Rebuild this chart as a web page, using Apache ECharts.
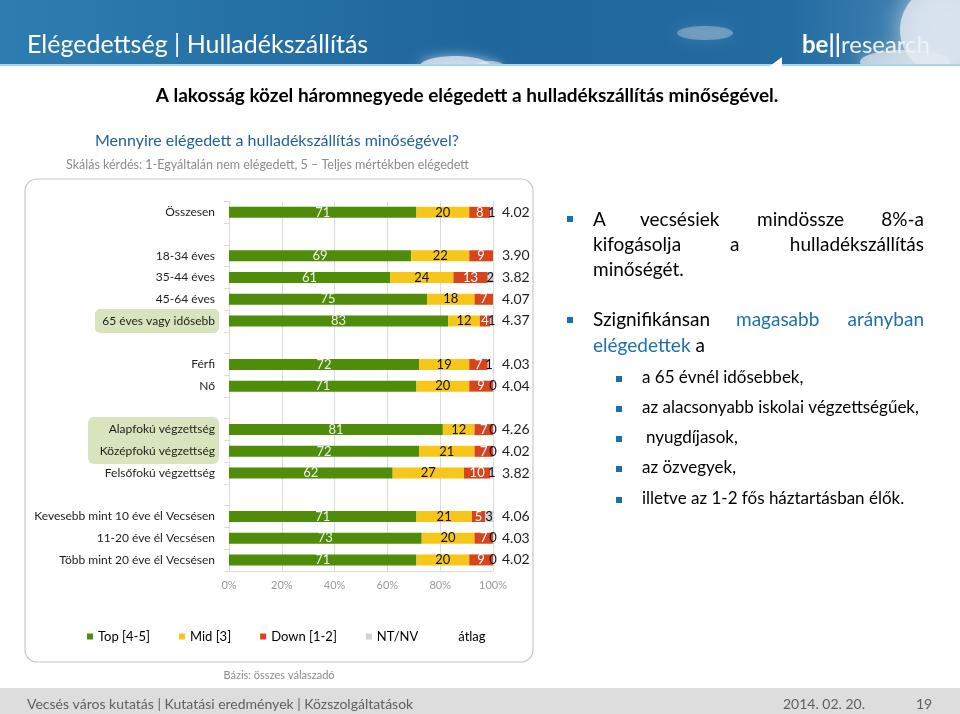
<!DOCTYPE html>
<html><head><meta charset="utf-8">
<script src="https://cdn.jsdelivr.net/npm/echarts@6/dist/echarts.min.js"></script>
<style>html,body{margin:0;padding:0;background:#fff}#c{width:960px;height:714px}</style>
</head><body><div id="c"></div>
<script>
const categories = ['Összesen','', '18-34 éves','35-44 éves','45-64 éves','65 éves vagy idősebb','', 'Férfi','Nő','', 'Alapfokú végzettség','Középfokú végzettség','Felsőfokú végzettség','', 'Kevesebb mint 10 éve él Vecsésen','11-20 éve él Vecsésen','Több mint 20 éve él Vecsésen'];
const topVals  = [71,null,69,61,75,83,null,72,71,null,81,72,62,null,71,73,71];
const midVals  = [20,null,22,24,18,12,null,19,20,null,12,21,27,null,21,20,20];
const downVals = [8,null,9,13,7,4,null,7,9,null,7,7,10,null,5,7,9];
const ntVals   = [1,null,null,2,null,1,null,1,0,null,0,0,1,null,3,0,0];
const avgLabels = ['4.02','','3.90','3.82','4.07','4.37','','4.03','4.04','','4.26','4.02','3.82','','4.06','4.03','4.02'];
const xTicks = ['0%','20%','40%','60%','80%','100%'];
const seriesNames = ['Top [4-5]','Mid [3]','Down [1-2]','NT/NV','átlag'];

const FONT = 'Lato';
const chart = echarts.init(document.getElementById('c'), null, {renderer:'canvas'});

function barSeries(name, data, color, labelColor){
  return {name, type:'bar', stack:'s', data, barWidth:11,
    itemStyle:{color},
    label:{show:true, position:'inside', color:labelColor, fontSize:13, fontFamily:FONT,
      formatter:p=> p.value==null?'':String(p.value)},
    emphasis:{disabled:true}, animation:false};
}

function word(x,y,t,opt){ return Object.assign({type:'text', x, y, style:Object.assign({text:t, fill:'#000', font:'19px '+FONT, textVerticalAlign:'middle'}, opt||{})}); }
function sq(x,y,s){ return {type:'rect', shape:{x,y,width:s,height:s}, style:{fill:'#1b6fae'}}; }
function cloud(cx,cy,rx,ry,a,blur){ return {type:'ellipse', z:-9, shape:{cx,cy,rx,ry}, style:{fill:'rgba(226,233,240,'+a+')', shadowBlur:blur, shadowColor:'rgba(235,240,245,'+a+')'}}; }

const graphics = [
  // banner
  {type:'rect', z:-10, shape:{x:0,y:0,width:960,height:66}, style:{fill:new echarts.graphic.LinearGradient(0,0,1,0.3,[{offset:0,color:'#2e7db1'},{offset:0.5,color:'#1e669c'},{offset:0.82,color:'#226ca2'},{offset:1,color:'#4c88b6'}])}},
  cloud(945,30,45,45,0.8,25),
  cloud(905,62,45,12,0.7,16),
  cloud(705,33,28,7,0.35,12),
  cloud(455,66,35,10,0.75,12),
  cloud(490,66,14,5,0.6,8),
  {type:'rect', z:-8.5, shape:{x:0,y:66,width:960,height:30}, style:{fill:'#fff'}},
  {type:'rect', z:-8, shape:{x:0,y:64,width:960,height:2}, style:{fill:'#a9d3e8'}},
  {type:'polygon', z:-7, shape:{points:[[770,66],[782,57],[782,66]]}, style:{fill:'#fff'}},
  {type:'text', x:27, y:45, style:{text:'Elégedettség | Hulladékszállítás', fill:'#fff', font:'25px '+FONT, textVerticalAlign:'middle'}},
  {type:'text', x:802, y:45, style:{rich:{b:{fill:'#fff', font:'bold 24px '+FONT}, r:{fill:'#eef3f7', font:'24px '+FONT}}, text:'{b|be||}{r|research}', textVerticalAlign:'middle'}},
  // titles
  {type:'text', x:467, y:96, style:{text:'A lakosság közel háromnegyede elégedett a hulladékszállítás minőségével.', fill:'#000', font:'bold 19px '+FONT, textAlign:'center', textVerticalAlign:'middle'}},
  {type:'text', x:95, y:141, style:{text:'Mennyire elégedett a hulladékszállítás minőségével?', fill:'#1f5f9c', font:'16px '+FONT, textVerticalAlign:'middle'}},
  {type:'text', x:66, y:165, style:{text:'Skálás kérdés: 1-Egyáltalán nem elégedett, 5 – Teljes mértékben elégedett', fill:'#8c8c8c', font:'12.5px '+FONT, textVerticalAlign:'middle'}},
  // chart box
  {type:'rect', z:-5, shape:{x:25,y:179,width:508,height:483,r:12}, style:{fill:'#fff', stroke:'#c8c8c8', lineWidth:1.2}},
  {type:'rect', z:-4, shape:{x:95,y:309,width:124,height:24,r:5}, style:{fill:'#d7e4bd'}},
  {type:'rect', z:-4, shape:{x:88,y:417,width:131,height:47,r:6}, style:{fill:'#d7e4bd'}},
  {type:'text', x:279, y:675, style:{text:'Bázis: összes válaszadó', fill:'#8c8c8c', font:'11px '+FONT, textAlign:'center', textVerticalAlign:'middle'}},
  // footer
  {type:'rect', z:-5, shape:{x:0,y:688,width:960,height:26}, style:{fill:'#dddddd'}},
  {type:'text', x:27, y:704, style:{text:'Vecsés város kutatás | Kutatási eredmények | Közszolgáltatások', fill:'#5f5f5f', font:'14px '+FONT, textVerticalAlign:'middle'}},
  {type:'text', x:783, y:704, style:{text:'2014. 02. 20.', fill:'#5f5f5f', font:'14px '+FONT, textVerticalAlign:'middle'}},
  {type:'text', x:916, y:704, style:{text:'19', fill:'#5f5f5f', font:'14px '+FONT, textVerticalAlign:'middle'}},
  // right text
  sq(567,216,6), sq(567,317,6),
  word(593,220,'A'), word(640,220,'vecsésiek'), word(757,220,'mindössze'), word(924,220,'8%-a',{textAlign:'right'}),
  word(593,245,'kifogásolja'), word(730,245,'a'), word(924,245,'hulladékszállítás',{textAlign:'right'}),
  word(593,270,'minőségét.'),
  word(593,320,'Szignifikánsan'), word(736,320,'magasabb',{fill:'#1d70a8'}), word(924,320,'arányban',{textAlign:'right', fill:'#1d70a8'}),
  {type:'text', x:593, y:346, style:{rich:{b:{fill:'#1d70a8', font:'19px '+FONT}, k:{fill:'#000', font:'19px '+FONT}}, text:'{b|elégedettek}{k| a}', textVerticalAlign:'middle'}},
  sq(616,376,6), sq(616,406,6), sq(616,436,6), sq(616,466,6), sq(616,497,6),
  word(642,378,'a 65 évnél idősebbek,',{font:'17px '+FONT}),
  word(642,408,'az alacsonyabb iskolai végzettségűek,',{font:'17px '+FONT}),
  word(646,438,'nyugdíjasok,',{font:'17px '+FONT}),
  word(642,468,'az özvegyek,',{font:'17px '+FONT}),
  word(642,499,'illetve az 1-2 fős háztartásban élők.',{font:'17px '+FONT})
];

const option = {
  animation:false,
  textStyle:{fontFamily:FONT},
  grid:{left:229, right:467, top:201.5, height:369.3, containLabel:false},
  legend:{left:87, top:630, padding:0, itemWidth:6, itemHeight:6, itemGap:29, icon:'rect',
    textStyle:{fontSize:13, color:'#000', fontFamily:FONT},
    data:[{name:seriesNames[0]},{name:seriesNames[1]},{name:seriesNames[2]},{name:seriesNames[3]},{name:seriesNames[4], itemStyle:{color:'rgba(0,0,0,0)'}}],
    selectedMode:false},
  xAxis:{type:'value', min:0, max:100, interval:20,
    axisLabel:{formatter:v=>xTicks[v/20], color:'#9a9a9a', fontSize:11, margin:9},
    splitLine:{lineStyle:{color:'#dcdcdc'}},
    axisLine:{show:true, lineStyle:{color:'#dcdcdc'}}, axisTick:{show:false}},
  yAxis:[
    {type:'category', data:categories, inverse:true,
      axisLabel:{color:'#1e1e1e', fontSize:12, margin:14, fontFamily:FONT},
      axisTick:{show:true, length:5, lineStyle:{color:'#dcdcdc'}},
      axisLine:{show:true, lineStyle:{color:'#dcdcdc'}}},
    {type:'category', data:avgLabels, inverse:true, position:'right',
      axisLabel:{color:'#1e1e1e', fontSize:14, margin:9, fontFamily:FONT},
      axisTick:{show:false}, axisLine:{show:false}}
  ],
  series:[
    barSeries(seriesNames[0], topVals, '#4e8c0a', '#eef3e8'),
    barSeries(seriesNames[1], midVals, '#f6c619', '#111'),
    barSeries(seriesNames[2], downVals, '#d8441c', '#fff'),
    barSeries(seriesNames[3], ntVals, '#cdd3da', '#111'),
    {name:seriesNames[4], type:'bar', stack:'s', data:[], itemStyle:{color:'rgba(0,0,0,0)'}}
  ],
  graphic:{elements:graphics}
};
chart.setOption(option);
</script></body></html>
